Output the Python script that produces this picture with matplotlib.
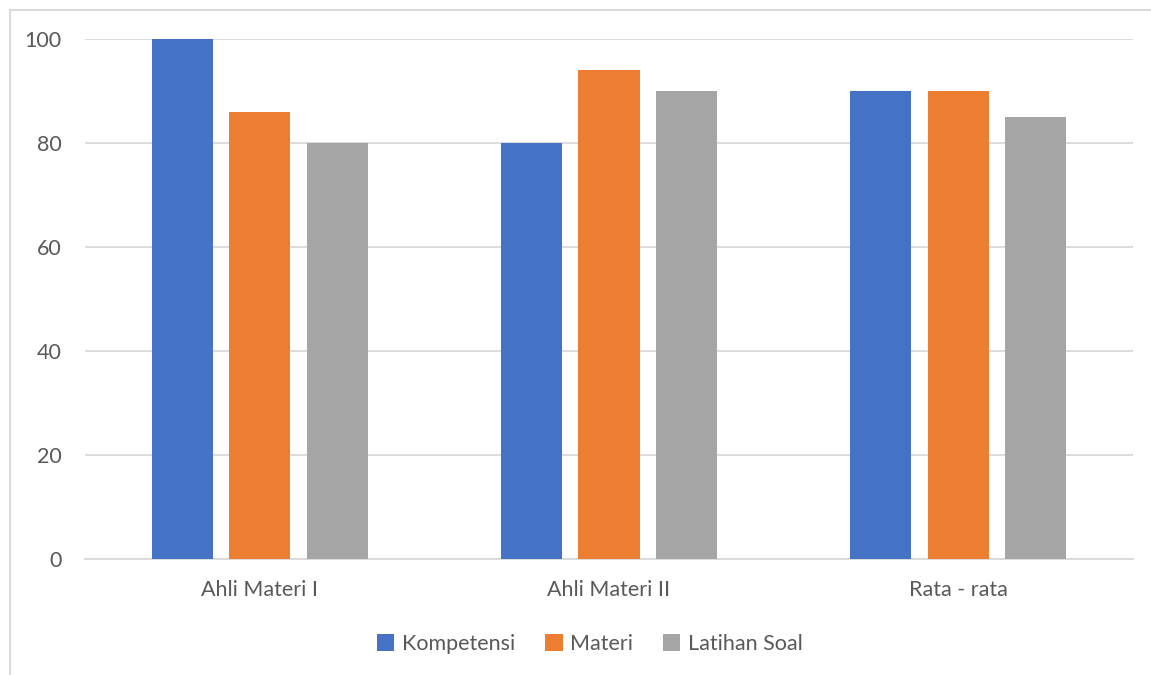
import numpy as np
import matplotlib.pyplot as plt
from matplotlib.lines import Line2D

categories = ["Ahli Materi I", "Ahli Materi II", "Rata - rata"]
kompetensi = [100, 80, 90]
materi = [86, 94, 90]
latihan_soal = [80, 90, 85]
series_names = ["Kompetensi", "Materi", "Latihan Soal"]
colors = ["#4472C4", "#ED7D31", "#A5A5A5"]
yticks = [0, 20, 40, 60, 80, 100]

W, H = 1151, 675
plt.rcParams["font.family"] = ["Lato", "DejaVu Sans"]
text_col = "#595959"
grid_col = "#D9D9D9"
fs = 15.5

fig = plt.figure(figsize=(W / 100, H / 100), dpi=100)
ax = fig.add_axes([85 / W, (H - 559) / H, (1133 - 85) / W, (559 - 39) / H])

x = np.arange(len(categories))
width = 61 / 349
step = 77.5 / 349
for i, (vals, name, c) in enumerate(zip([kompetensi, materi, latihan_soal], series_names, colors)):
    ax.bar(x + (i - 1) * step, vals, width, color=c, label=name, zorder=3)

ax.set_xlim(-0.5, len(categories) - 0.5)
ax.set_ylim(0, 100)
ax.set_yticks(yticks)
ax.set_xticks(x)
ax.set_xticklabels(categories)
ax.grid(axis="y", color=grid_col, linewidth=1.3, zorder=0)
for s in ["left", "right", "top"]:
    ax.spines[s].set_visible(False)
ax.spines["bottom"].set_color(grid_col)
ax.spines["bottom"].set_linewidth(1.3)
ax.tick_params(axis="both", length=0, labelsize=fs, colors=text_col)
ax.tick_params(axis="y", pad=17)
ax.tick_params(axis="x", pad=15)

leg = fig.legend(loc="center", bbox_to_anchor=(590 / W, (H - 644) / H), ncol=3,
                 frameon=False, fontsize=fs, handlelength=0.8, handleheight=0.8,
                 handletextpad=0.35, columnspacing=1.4)
for t in leg.get_texts():
    t.set_color(text_col)

# chart area border (left and top visible)
fig.add_artist(Line2D([10 / W, 10 / W], [0, 1 - 10 / H], transform=fig.transFigure, color=grid_col, linewidth=1.5))
fig.add_artist(Line2D([10 / W, 1], [1 - 10 / H, 1 - 10 / H], transform=fig.transFigure, color=grid_col, linewidth=1.5))

fig.savefig("out.png", dpi=100)
